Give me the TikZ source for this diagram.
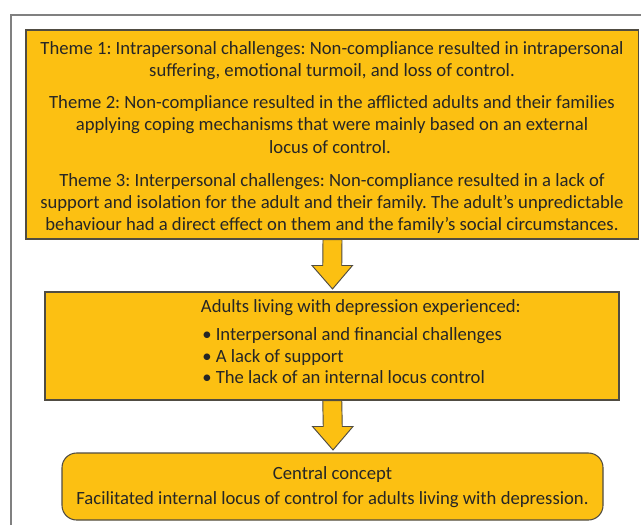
\documentclass[tikz,border=0pt]{standalone}
\usepackage{fontspec}
\setmainfont{Carlito}
\frenchspacing
\usetikzlibrary{calc}
\definecolor{gold}{RGB}{252,192,18}
\definecolor{edge}{RGB}{80,76,66}
\definecolor{ink}{RGB}{38,38,38}
\definecolor{framegray}{RGB}{128,128,128}
\tikzset{
  panel/.style={draw=edge, fill=gold, line width=0.8pt, inner sep=0pt},
  txt/.style={inner sep=0pt, text=ink, font=\fontsize{14}{16}\selectfont},
  flowarrow/.style={draw=edge, fill=gold, line width=0.7pt, line join=miter},
  outerframe/.style={draw=framegray, line width=1.1pt}
}
\begin{document}
\begin{tikzpicture}[x=0.75pt,y=-0.75pt]
\useasboundingbox (0,0) rectangle (641,525);
\fill[white] (0,0) rectangle (641,525);

% page frame, running off the right and bottom edges
\draw[outerframe] (11,525) -- (11,15) -- (641,15);

% boxes
\node[panel, minimum width=612.5*0.75pt, minimum height=209*0.75pt] (top) at (332.25,134.5) {};
\node[panel, minimum width=574*0.75pt, minimum height=108*0.75pt] (mid) at (332,346) {};
\node[panel, rounded corners=11pt, minimum width=541*0.75pt, minimum height=67*0.75pt] (concept) at (332.5,486.5) {};

% themes
\node[txt, anchor=base] (a1) at (332,54.5) {Theme 1: Intrapersonal challenges: Non-compliance resulted in intrapersonal};
\node[txt, anchor=base] (a2) at (332,76.5) {suffering, emotional turmoil, and loss of control.};
\node[txt, anchor=base] (b1) at (332,108.5) {Theme 2: Non-compliance resulted in the afflicted adults and their families};
\node[txt, anchor=base] (b2) at (332,130.5) {applying coping mechanisms that were mainly based on an external};
\node[txt, anchor=base] (b3) at (330,153) {locus of control.};
\node[txt, anchor=base] (c1) at (332,186) {Theme 3: Interpersonal challenges: Non-compliance resulted in a lack of};
\node[txt, anchor=base] (c2) at (332,208) {support and isolation for the adult and their family. The adult’s unpredictable};
\node[txt, anchor=base] (c3) at (332,230) {behaviour had a direct effect on them and the family’s social circumstances.};

% experiences
\node[txt, anchor=base west] (m0) at (200.7,312.5) {Adults living with depression experienced:};
\node[txt, anchor=base west] (m1) at (202,340) {• Interpersonal and financial challenges};
\node[txt, anchor=base west] (m2) at (202,362) {• A lack of support};
\node[txt, anchor=base west] (m3) at (202,383.5) {• The lack of an internal locus control};

% central concept
\node[txt, anchor=base] (k1) at (332.5,479) {Central concept};
\node[txt, anchor=base] (k2) at (332.5,504.5) {Facilitated internal locus of control for adults living with depression.};

% block arrows between the boxes
\foreach \from/\to in {top/mid, mid/concept}{
  \draw[flowarrow]
    ($(\from.south)+(-9.25,0)$) -- ($(\from.south)+(9.75,0)$)
    -- ($(\to.north)+(9.75,-26)$) -- ($(\to.north)+(20.5,-26)$)
    -- ($(\to.north)+(0.5,-2.5)$)
    -- ($(\to.north)+(-20,-26)$) -- ($(\to.north)+(-9.25,-26)$) -- cycle;
}
\end{tikzpicture}
\end{document}
